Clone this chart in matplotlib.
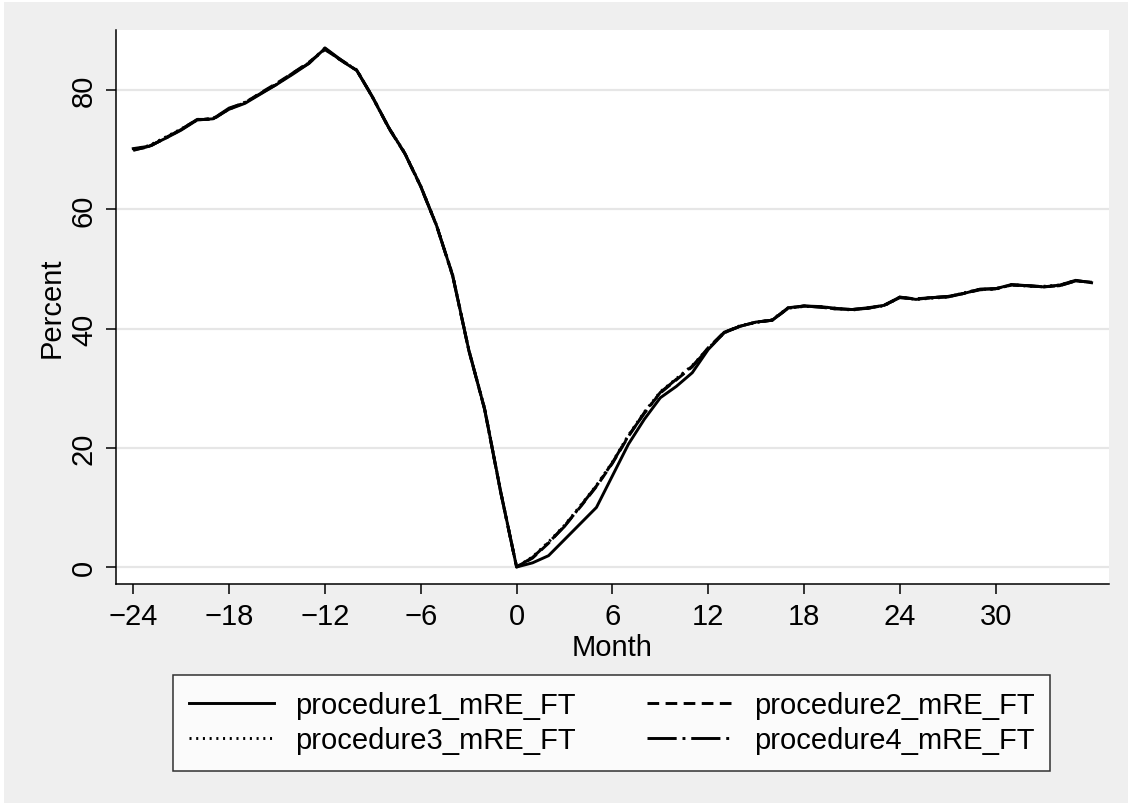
import matplotlib
matplotlib.use("Agg")
from matplotlib import pyplot as plt
from matplotlib.patches import Rectangle

plt.rcParams['font.family'] = ['Liberation Sans', 'DejaVu Sans']

# meses relativos al evento
meses = list(range(-24, 37))

# porcentaje de cada procedimiento
proc1 = [70.2, 70.6, 71.9, 73.3, 75.0, 75.2, 76.8, 77.8, 79.4, 81.0, 82.7, 84.5, 87.0,
         85.0, 83.3, 78.7, 73.7, 69.4, 63.9, 57.2, 48.9, 36.5, 26.5, 12.7, 0.0,
         0.7, 1.9, 4.6, 7.3, 10.0, 15.3, 20.6, 24.8, 28.4, 30.3, 32.6, 36.5, 39.3, 40.4,
         41.1, 41.4, 43.5, 43.8, 43.7, 43.4, 43.2, 43.5, 43.9, 45.3, 44.9, 45.2, 45.3,
         45.9, 46.6, 46.7, 47.4, 47.2, 47.0, 47.3, 48.1, 47.7]
proc2 = [70.0, 70.5, 72.0, 73.4, 75.1, 75.1, 76.9, 77.9, 79.6, 81.2, 82.9, 84.7, 86.8,
         85.1, 83.3, 78.8, 73.6, 69.4, 63.8, 57.2, 48.9, 36.4, 26.5, 12.6, 0.0,
         1.5, 4.0, 6.9, 10.1, 13.5, 17.4, 21.9, 25.9, 29.2, 31.4, 33.6, 36.8, 39.4, 40.4,
         41.1, 41.4, 43.4, 43.8, 43.6, 43.3, 43.2, 43.4, 43.9, 45.2, 45.0, 45.2, 45.4,
         45.9, 46.5, 46.7, 47.3, 47.2, 47.0, 47.2, 48.0, 47.8]
proc3 = [70.1, 70.7, 72.1, 73.5, 75.0, 75.3, 76.8, 78.0, 79.5, 81.1, 82.8, 84.6, 86.9,
         85.0, 83.4, 78.7, 73.7, 69.5, 63.9, 57.3, 49.0, 36.5, 26.6, 12.7, 0.0,
         1.7, 4.2, 7.0, 10.3, 13.7, 17.6, 22.1, 26.0, 29.4, 31.6, 33.8, 36.7, 39.3, 40.5,
         41.0, 41.5, 43.5, 43.7, 43.7, 43.4, 43.1, 43.5, 43.8, 45.3, 44.9, 45.1, 45.3,
         46.0, 46.6, 46.6, 47.4, 47.1, 47.1, 47.3, 48.1, 47.7]
proc4 = [69.9, 70.6, 71.9, 73.4, 75.1, 75.2, 77.0, 77.9, 79.5, 81.0, 82.9, 84.5, 87.1,
         85.1, 83.3, 78.8, 73.7, 69.4, 63.8, 57.2, 48.8, 36.5, 26.4, 12.6, 0.0,
         1.6, 4.1, 6.8, 10.2, 13.6, 17.5, 22.0, 25.8, 29.3, 31.5, 33.7, 36.6, 39.4, 40.4,
         41.1, 41.4, 43.4, 43.8, 43.6, 43.3, 43.2, 43.4, 43.9, 45.2, 45.0, 45.2, 45.4,
         45.9, 46.6, 46.7, 47.3, 47.2, 47.0, 47.2, 48.0, 47.8]

xticks = [-24, -18, -12, -6, 0, 6, 12, 18, 24, 30]
yticks = [0, 20, 40, 60, 80]

gris = '#efefef'
fig = plt.figure(figsize=(11.28, 8.04), dpi=100, facecolor='white')
# fondo gris del gráfico
fig.patches.append(Rectangle((4 / 1128, 0), 1, 1 - 3 / 804, transform=fig.transFigure,
                             facecolor=gris, edgecolor='none', zorder=-1))

ax = fig.add_axes([116 / 1128, 1 - 585 / 804, (1109 - 116) / 1128, (585 - 31) / 804])
ax.set_facecolor('white')

lw = 2.1
l1, = ax.plot(meses, proc1, color='black', lw=lw, linestyle='-', label='procedure1_mRE_FT')
l2, = ax.plot(meses, proc2, color='black', lw=lw, linestyle=(0, (4, 2.2)), label='procedure2_mRE_FT')
l3, = ax.plot(meses, proc3, color='black', lw=lw, linestyle=(0, (0.7, 1.6)), label='procedure3_mRE_FT')
l4, = ax.plot(meses, proc4, color='black', lw=lw, linestyle=(0, (10, 2, 1, 2)), label='procedure4_mRE_FT')

ax.set_xlim(-25.08, 37.09)
ax.set_ylim(-2.85, 90.1)
ax.set_xticks(xticks)
ax.set_yticks(yticks)
ax.set_yticklabels([str(v) for v in yticks], rotation=90, va='center')
ax.tick_params(axis='both', direction='out', length=7, width=1.1, labelsize=21, pad=6)

ax.grid(axis='y', color='#e6e6e6', linewidth=1.6)
ax.set_axisbelow(True)
for lado in ['top', 'right']:
    ax.spines[lado].set_visible(False)
for lado in ['left', 'bottom']:
    ax.spines[lado].set_linewidth(1.1)

ax.set_xlabel('Month', fontsize=21, labelpad=2)
ax.set_ylabel('Percent', fontsize=21, labelpad=3)

# leyenda en dos columnas debajo del gráfico
leg = fig.legend([l1, l3, l2, l4],
                 [l.get_label() for l in [l1, l3, l2, l4]],
                 ncols=2, loc='center', bbox_to_anchor=(611.5 / 1128, 1 - 724 / 804),
                 fontsize=21, frameon=True, fancybox=False, edgecolor='black',
                 handlelength=2.91, handletextpad=0.75, columnspacing=2.43,
                 labelspacing=0.24, borderpad=0.55)
leg.get_frame().set_linewidth(1.1)
leg.get_frame().set_facecolor('white')

fig.savefig('out.png', dpi=100, facecolor=fig.get_facecolor())
